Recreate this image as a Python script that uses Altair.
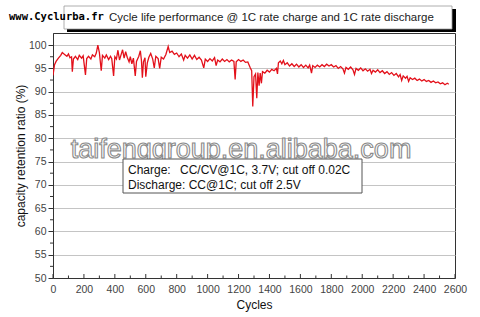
import altair as alt
import pandas as pd

cycles = [0, 10, 20, 35, 50, 60, 75, 90, 100, 110, 120, 125, 132, 145, 160, 170, 185, 195, 210, 218,
          230, 245, 255, 270, 280, 290, 300, 312, 320, 335, 345, 360, 372, 380, 392, 400, 410, 420, 430, 440,
          450, 460, 470, 480, 492, 500, 510, 520, 532, 540, 555, 565, 572, 578, 585, 595, 600, 610, 620, 632,
          645, 655, 665, 680, 690, 700, 715, 730, 745, 755, 770, 785, 800, 815, 830, 845, 855, 870, 885, 900,
          915, 930, 945, 960, 975, 985, 1000, 1015, 1030, 1045, 1055, 1065, 1080, 1095, 1110, 1125, 1140, 1155, 1170, 1178,
          1185, 1200, 1215, 1230, 1245, 1260, 1275, 1285, 1292, 1300, 1310, 1318, 1325, 1333, 1340, 1348, 1355, 1370, 1385, 1400,
          1415, 1430, 1445, 1452, 1458, 1470, 1480, 1490, 1500, 1515, 1530, 1545, 1560, 1575, 1590, 1605, 1620, 1635, 1650, 1660,
          1672, 1680, 1695, 1710, 1725, 1740, 1755, 1770, 1785, 1800, 1815, 1830, 1845, 1860, 1875, 1885, 1895, 1910, 1925, 1940,
          1950, 1960, 1975, 1990, 2005, 2020, 2035, 2050, 2060, 2070, 2085, 2100, 2115, 2130, 2145, 2160, 2175, 2190, 2205, 2220,
          2235, 2245, 2255, 2265, 2280, 2290, 2300, 2310, 2325, 2340, 2355, 2370, 2385, 2400, 2415, 2430, 2445, 2460, 2475, 2490,
          2505, 2520, 2535, 2550, 2560]
retention = [93.5, 95.8, 96.5, 97.2, 97.8, 98.4, 98.0, 97.6, 98.1, 97.3, 97.5, 94.3, 97.0, 97.6, 96.9, 97.8, 97.2, 97.7, 93.6, 97.1,
             97.6, 97.0, 97.9, 97.5, 98.3, 100.0, 98.4, 94.5, 97.8, 97.2, 97.9, 96.9, 97.6, 97.1, 93.4, 97.5, 97.0, 98.9, 96.8, 97.9,
             99.0, 97.2, 98.6, 97.4, 96.4, 97.5, 96.0, 97.2, 93.4, 96.5, 97.6, 98.8, 96.7, 93.0, 96.4, 97.3, 93.2, 96.2, 97.4, 98.2,
             97.0, 95.1, 97.6, 97.1, 95.0, 97.4, 97.0, 98.0, 99.7, 98.4, 98.7, 98.0, 98.3, 97.5, 98.1, 96.8, 97.8, 97.2, 97.9, 97.0,
             97.8, 96.9, 97.4, 96.8, 95.1, 97.0, 96.5, 97.1, 96.6, 97.3, 95.6, 96.8, 96.4, 97.0, 96.5, 96.9, 96.4, 96.8, 96.5, 92.6,
             96.4, 96.9, 96.5, 96.8, 96.3, 96.4, 95.2, 94.5, 86.8, 93.2, 93.8, 88.6, 94.1, 91.3, 94.0, 91.8, 94.3, 94.0, 94.6, 94.2,
             94.8, 94.5, 95.0, 93.8, 96.2, 96.6, 96.0, 96.7, 95.8, 96.2, 95.5, 96.0, 95.4, 95.9, 95.3, 95.8, 95.2, 95.7, 95.1, 95.7,
             94.0, 95.6, 95.2, 95.7, 95.3, 95.8, 95.4, 95.9, 95.5, 95.8, 95.3, 95.6, 95.0, 95.4, 94.9, 94.0, 95.2, 94.8, 95.3, 94.7,
             93.7, 95.0, 94.6, 95.1, 94.5, 94.9, 94.4, 94.8, 93.9, 94.6, 94.2, 94.7, 94.1, 94.5, 93.9, 94.3, 93.7, 94.1, 93.5, 93.9,
             93.2, 93.7, 92.4, 93.4, 92.9, 93.3, 92.2, 93.0, 92.6, 92.9, 92.4, 92.7, 92.3, 92.6, 92.2, 92.4, 92.0, 92.3, 91.9, 92.1,
             91.7, 91.9, 91.5, 91.8, 91.6]

x_ticks_major = list(range(0, 2601, 200))
x_ticks_minor = list(range(100, 2600, 200))
y_ticks_major = [50, 55, 60, 65, 70, 75, 80, 85, 90, 95, 100]
y_ticks_minor = [52.5, 57.5, 62.5, 67.5, 72.5, 77.5, 82.5, 87.5, 92.5, 97.5]

chart_title = ["Cycle life performance @ 1C rate charge and 1C rate discharge"]
site_mark = ["www.Cyclurba.fr"]
watermark = ["taifenggroup.en.alibaba.com"]
note_label = ["Charge:"]
note_line1 = ["CC/CV@1C, 3.7V; cut off 0.02C"]
note_line2 = ["Discharge: CC@1C; cut off 2.5V"]

FONT = "Liberation Sans"
W, H = 402, 245

df = pd.DataFrame({"cycle": cycles, "ret": retention})

xscale = alt.Scale(domain=[0, 2600], nice=False)
yscale = alt.Scale(domain=[50, 102.6], nice=False, zero=False)

xaxis = alt.Axis(title="Cycles", values=x_ticks_major, format="d", ticks=False, grid=False,
                 labelOverlap=False, labelFlush=False,
                 labelPadding=6, titlePadding=5, labelColor="#444", labelFontSize=10.5,
                 titleFontSize=12, titleFontWeight="normal", titleColor="#111",
                 domainColor="#333", labelFont=FONT, titleFont=FONT)
yaxis = alt.Axis(title="capacity retention ratio (%)", values=y_ticks_major, format="d",
                 tickSize=5, labelOverlap=False, labelFlush=False,
                 tickColor="#333", grid=True, gridColor="#c4c4c4", labelPadding=2,
                 titlePadding=1, labelColor="#444", labelFontSize=10.5, titleFontSize=12,
                 titleFontWeight="normal", titleColor="#111", domainColor="#333",
                 labelFont=FONT, titleFont=FONT)

line = alt.Chart(df).mark_line(color="#e3101a", strokeWidth=1.3, clip=True).encode(
    x=alt.X("cycle:Q", scale=xscale, axis=xaxis),
    y=alt.Y("ret:Q", scale=yscale, axis=yaxis),
)

xt_major = alt.Chart(pd.DataFrame({"cycle": x_ticks_major})).mark_rule(color="#333").encode(
    x=alt.X("cycle:Q", scale=xscale, axis=xaxis), y=alt.value(H), y2=alt.value(H - 4))
xt_minor = alt.Chart(pd.DataFrame({"cycle": x_ticks_minor})).mark_rule(color="#333").encode(
    x=alt.X("cycle:Q", scale=xscale, axis=xaxis), y=alt.value(H), y2=alt.value(H - 2.5))
yt_minor = alt.Chart(pd.DataFrame({"ret": y_ticks_minor})).mark_rule(color="#333").encode(
    y=alt.Y("ret:Q", scale=yscale, axis=yaxis), x=alt.value(-3), x2=alt.value(0))

# title box with shadow
shadow = alt.Chart(pd.DataFrame({"t": [0]})).mark_rect(color="#000").encode(
    x=alt.value(14), x2=alt.value(403), y=alt.value(-24), y2=alt.value(-1))
tbox = alt.Chart(pd.DataFrame({"t": [0]})).mark_rect(fill="white", stroke="#999", strokeWidth=0.8).encode(
    x=alt.value(11), x2=alt.value(399), y=alt.value(-27), y2=alt.value(-4))
ttext = alt.Chart(pd.DataFrame({"t": chart_title})).mark_text(
    align="left", baseline="middle", font=FONT, fontSize=11.5, color="#222").encode(
    x=alt.value(56), y=alt.value(-15), text="t:N")
site = alt.Chart(pd.DataFrame({"t": site_mark})).mark_text(
    align="left", baseline="middle", font="DejaVu Sans Mono", fontSize=10.5, fontWeight="bold", color="#000").encode(
    x=alt.value(-44), y=alt.value(-16), text="t:N")

wm = alt.Chart(pd.DataFrame({"t": watermark})).mark_text(
    align="center", baseline="middle", font="Liberation Sans", fontSize=27, fill="white",
    stroke="#8a8a8a", strokeWidth=1.1).encode(
    x=alt.value(188), y=alt.value(117), text="t:N")

nbox = alt.Chart(pd.DataFrame({"t": [0]})).mark_rect(fill="white", stroke="#555", strokeWidth=1).encode(
    x=alt.value(70), x2=alt.value(309), y=alt.value(126), y2=alt.value(160))
n1 = alt.Chart(pd.DataFrame({"t": note_label})).mark_text(
    align="left", baseline="middle", font=FONT, fontSize=12, color="#111").encode(
    x=alt.value(75), y=alt.value(137), text="t:N")
n2 = alt.Chart(pd.DataFrame({"t": note_line1})).mark_text(
    align="left", baseline="middle", font=FONT, fontSize=12, color="#111").encode(
    x=alt.value(127), y=alt.value(137), text="t:N")
n3 = alt.Chart(pd.DataFrame({"t": note_line2})).mark_text(
    align="left", baseline="middle", font=FONT, fontSize=12, color="#111").encode(
    x=alt.value(75), y=alt.value(152), text="t:N")

chart = alt.layer(
    line, xt_major, xt_minor, yt_minor, wm, nbox, n1, n2, n3, shadow, tbox, ttext, site
).properties(
    width=W, height=H,
    autosize=alt.AutoSizeParams(type="none"),
    padding={"left": 53, "top": 33, "right": 25, "bottom": 39},
    background="white",
).configure_view(stroke="#333", strokeWidth=1)

chart.save("out.html", embed_options={"renderer": "svg", "actions": False})
